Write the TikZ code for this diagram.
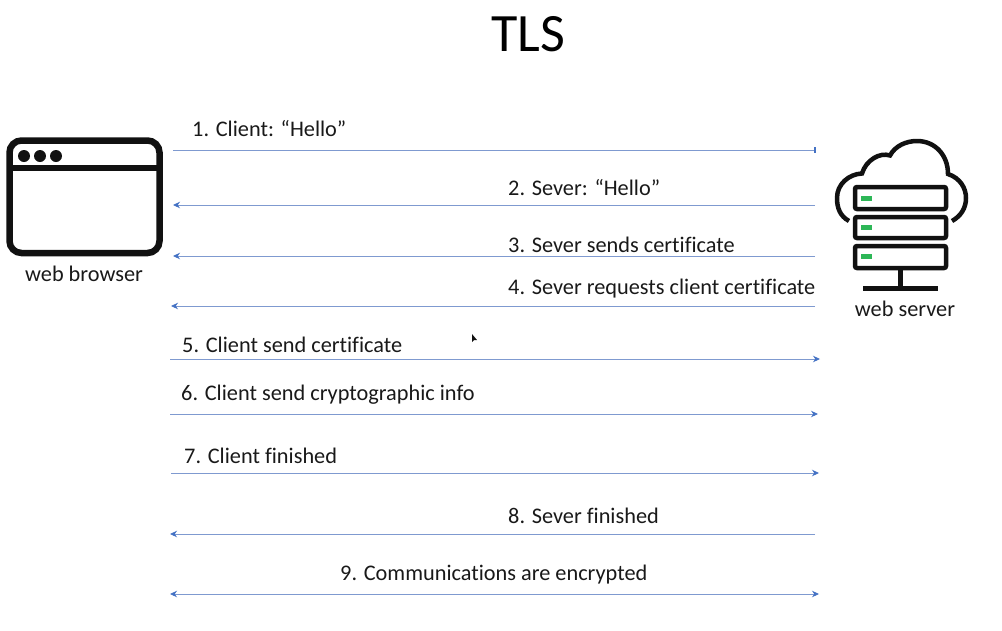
\documentclass[tikz,border=0pt]{standalone}
\usepackage{fontspec}
\setmainfont{Carlito}[Ligatures=NoCommon]
\usetikzlibrary{arrows.meta}
\definecolor{msgblue}{HTML}{4472C4}
\definecolor{msgline}{HTML}{7F9AD0}
\definecolor{ledgreen}{HTML}{2DB757}
\definecolor{iconblack}{HTML}{111111}
\tikzset{
  tip/.tip={Stealth[length=7pt,width=6.5pt,color=msgblue]},
  msg/.style={draw=msgline, line width=0.9pt, -tip},
  msglabel/.style={anchor=west, inner sep=0pt, text=black!90, font=\fontsize{22.3}{26}\selectfont},
  iconlabel/.style={inner sep=0pt, text=black!90, font=\fontsize{22.3}{26}\selectfont},
  rack/.style={draw=iconblack, line width=4.5pt, rounded corners=2pt},
  led/.style={fill=ledgreen},
}

\begin{document}
\begin{tikzpicture}[x=1pt, y=-1pt]
\useasboundingbox (0,0) rectangle (1002,630);

\node[inner sep=0pt, font=\fontsize{54}{60}\selectfont] (title) at (528.5,34.5) {TLS};

% web browser icon
\draw[iconblack, line width=6.5pt, rounded corners=12pt] (9.5,140.5) rectangle (159.5,253);
\draw[iconblack, line width=5.5pt] (9.5,168) -- (159.5,168);
\fill[iconblack] (24,156) circle (6) (40,156) circle (6) (56,156) circle (6);
\node[iconlabel] (browser) at (84,274) {web browser};

% web server icon
\draw[iconblack, line width=4.5pt] (849,221) .. controls (840,216) and (837,208) .. (837,198)
  .. controls (837,184) and (849,174) .. (862,173.5)
  .. controls (866,160) and (880,152) .. (890,155.5)
  .. controls (895,146) and (906,141) .. (917,141)
  .. controls (935,141) and (948,155) .. (948,174)
  .. controls (960,178) and (966,188) .. (966,198)
  .. controls (966,208) and (961,216) .. (952,221);
\draw[rack] (855,187) rectangle (946,209);
\draw[rack] (855,217) rectangle (946,238);
\draw[rack] (855,246) rectangle (946,268);
\fill[led] (861,196) rectangle (872,201);
\fill[led] (861,225) rectangle (872,230);
\fill[led] (861,254) rectangle (872,259);
\draw[iconblack, line width=4.5pt] (900.5,270) -- (900.5,288);
\draw[iconblack, line width=5pt] (863,288.5) -- (938,288.5);
\node[iconlabel] (server) at (905,309) {web server};

% messages
\coordinate (c1) at (173,150);  \coordinate (s1) at (816,150);
\coordinate (c2) at (173,205);  \coordinate (s2) at (815,205);
\coordinate (c3) at (173,256);  \coordinate (s3) at (815,256);
\coordinate (c4) at (171,306);  \coordinate (s4) at (815,306);
\coordinate (c5) at (170,359);  \coordinate (s5) at (820,359);
\coordinate (c6) at (170,414);  \coordinate (s6) at (818,414);
\coordinate (c7) at (171,473);  \coordinate (s7) at (819,473);
\coordinate (c8) at (170,534);  \coordinate (s8) at (815,534);
\coordinate (c9) at (170,594);  \coordinate (s9) at (819,594);

\draw[msg, -{Bar[width=6pt,line width=2pt,color=msgblue]}] (c1) -- (s1);
\draw[msg] (s2) -- (c2);
\draw[msg] (s3) -- (c3);
\draw[msg] (s4) -- (c4);
\draw[msg] (c5) -- (s5);
\draw[msg] (c6) -- (s6);
\draw[msg] (c7) -- (s7);
\draw[msg] (s8) -- (c8);
\draw[msg, tip-tip] (c9) -- (s9);

\node[msglabel] (m1) at (192,129) {1. Client: “Hello”};
\node[msglabel] (m2) at (508,187.5) {2. Sever: “Hello”};
\node[msglabel] (m3) at (508,244.5) {3. Sever sends certificate};
\node[msglabel] (m4) at (508,289) {4. Sever requests client certificate};
\node[msglabel] (m5) at (182,345) {5. Client send certificate};
\node[msglabel] (m6) at (181,395) {6. Client send cryptographic info};
\node[msglabel] (m7) at (184,456) {7. Client finished};
\node[msglabel] (m8) at (508,516) {8. Sever finished};
\node[msglabel] (m9) at (340,575) {9. Communications are encrypted};

% mouse pointer
\fill[iconblack] (472,334) -- (472,342) -- (474,340) -- (477,340) -- cycle;
\end{tikzpicture}
\end{document}
